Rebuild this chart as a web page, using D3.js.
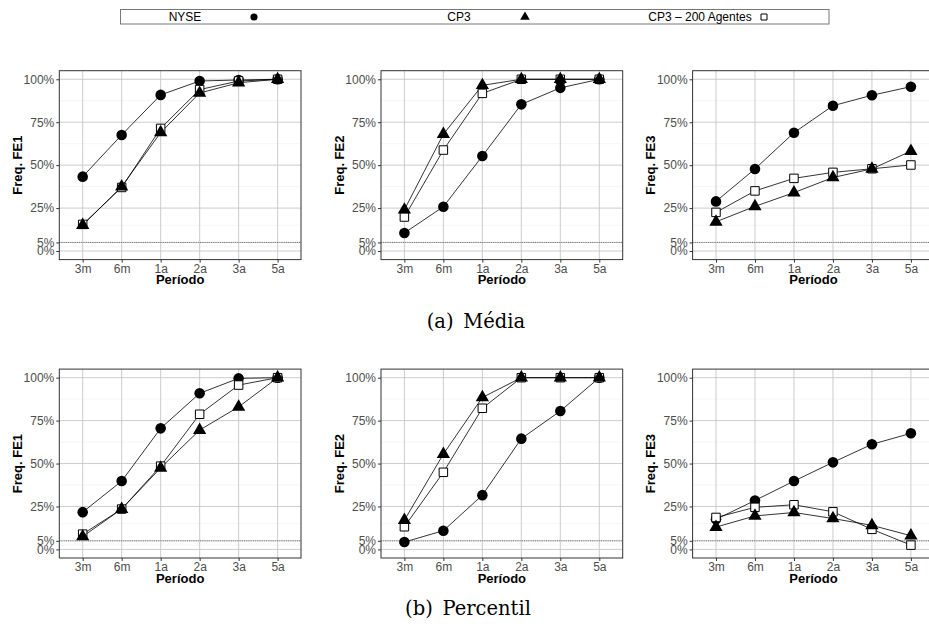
<!DOCTYPE html>
<html lang="pt">
  <head>
    <meta charset="UTF-8">
    <script src="https://cdn.jsdelivr.net/npm/d3@7/dist/d3.min.js"></script>
    <title>Freq. FE</title>
    <style>
      body { margin: 0; background: #fff; }
      svg { display: block; }
    </style>
  </head>
  <body>
    <div id="chart"></div>
    <script>

// Data (percent). Order in each panel: NYSE, CP3, CP3 – 200 Agentes
const periods = ["3m", "6m", "1a", "2a", "3a", "5a"];
const seriesNames = ["NYSE", "CP3", "CP3 – 200 Agentes"];
const yTicks = [0, 5, 25, 50, 75, 100];
const yMinor = [2.5, 15, 37.5, 62.5, 87.5];

const mediaFE1 = [
  [43.3, 67.6, 90.9, 99.0, 99.6, 100],
  [15.0, 37.5, 69.0, 92.0, 98.0, 100],
  [15.5, 37.0, 71.4, 94.0, 99.0, 100]
];
const mediaFE2 = [
  [10.5, 25.8, 55.3, 85.4, 95.0, 100],
  [24.0, 68.0, 96.5, 100, 100, 100],
  [19.8, 58.8, 91.8, 100, 100, 100]
];
const mediaFE3 = [
  [28.9, 47.8, 68.9, 84.6, 90.7, 95.7],
  [17.0, 26.0, 34.0, 42.8, 47.8, 58.2],
  [22.5, 35.0, 42.3, 45.8, 47.9, 50.1]
];
const percFE1 = [
  [21.7, 39.8, 70.5, 90.9, 99.6, 100],
  [7.5, 23.5, 47.5, 69.5, 83.0, 100],
  [8.9, 23.5, 48.5, 78.7, 95.7, 100]
];
const percFE2 = [
  [4.3, 10.9, 31.6, 64.5, 80.6, 100],
  [17.0, 55.5, 88.5, 100, 100, 100],
  [13.2, 44.9, 82.2, 100, 100, 100]
];
const percFE3 = [
  [17.5, 28.5, 39.8, 50.7, 61.2, 67.6],
  [13.0, 19.5, 21.5, 18.0, 14.0, 8.0],
  [18.6, 24.5, 26.0, 21.9, 11.7, 2.5]
];

const width  = 929;
const height = 632;

const sans = "'Liberation Sans', Arial, Helvetica, sans-serif";
const serif = "'DejaVu Serif', serif";

// panel layout
const colLeft  = [59.3, 381, 692.6];
const rowTop   = [70.7, 369.1];
const panelW   = 241.7;
const panelH   = 188.9;

const panels = [
  { row: 0, col: 0, title: "Freq. FE1", values: mediaFE1 },
  { row: 0, col: 1, title: "Freq. FE2", values: mediaFE2 },
  { row: 0, col: 2, title: "Freq. FE3", values: mediaFE3 },
  { row: 1, col: 0, title: "Freq. FE1", values: percFE1 },
  { row: 1, col: 1, title: "Freq. FE2", values: percFE2 },
  { row: 1, col: 2, title: "Freq. FE3", values: percFE3 }
];

const captions = [
  { text: "(a)\u2002Média", x: 476, y: 328 },
  { text: "(b)\u2002Percentil", x: 468, y: 615 }
];

const svg = d3.select("#chart")
  .append("svg")
  .attr("width", width)
  .attr("height", height)
  .attr("viewBox", [0, 0, width, height]);

// symbols
const sym = [
  { type: d3.symbolCircle,   size: 88, fill: "#000", stroke: "none" },
  { type: d3.symbolTriangle, size: 76, fill: "#000", stroke: "none" },
  { type: d3.symbolSquare,   size: 72, fill: "#fff", stroke: "#000" }
];
const drawOrder = [0, 2, 1];

panels.forEach(p => {
  const x0 = colLeft[p.col];
  const y0 = rowTop[p.row];

  const x = d3.scalePoint()
    .domain(periods)
    .range([x0, x0 + panelW])
    .padding(0.6);

  const y = d3.scaleLinear()
    .domain([-5, 105])
    .range([y0 + panelH, y0]);

  const g = svg.append("g");

  // minor grid
  g.append("g")
    .selectAll("line")
    .data(yMinor)
    .join("line")
      .attr("x1", x0).attr("x2", x0 + panelW)
      .attr("y1", d => y(d)).attr("y2", d => y(d))
      .attr("stroke", "#efefef")
      .attr("stroke-width", 0.6);

  // major grid
  g.append("g")
    .selectAll("line")
    .data(yTicks)
    .join("line")
      .attr("x1", x0).attr("x2", x0 + panelW)
      .attr("y1", d => y(d)).attr("y2", d => y(d))
      .attr("stroke", "#c6c6c6")
      .attr("stroke-width", 0.9);

  g.append("g")
    .selectAll("line")
    .data(periods)
    .join("line")
      .attr("x1", d => x(d)).attr("x2", d => x(d))
      .attr("y1", y0).attr("y2", y0 + panelH)
      .attr("stroke", "#c6c6c6")
      .attr("stroke-width", 0.9);

  // 5% reference line
  g.append("line")
    .attr("x1", x0).attr("x2", x0 + panelW)
    .attr("y1", y(5)).attr("y2", y(5))
    .attr("stroke", "#666")
    .attr("stroke-width", 0.9)
    .attr("stroke-dasharray", "1,1.2");

  // lines
  const line = d3.line()
    .x((d, i) => x(periods[i]))
    .y(d => y(d));

  g.append("g")
    .selectAll("path")
    .data(p.values)
    .join("path")
      .attr("d", line)
      .attr("fill", "none")
      .attr("stroke", "#000")
      .attr("stroke-width", 0.8);

  // points
  drawOrder.forEach(s => {
    g.append("g")
      .selectAll("path")
      .data(p.values[s])
      .join("path")
        .attr("transform", (d, i) => `translate(${x(periods[i])},${y(d)})`)
        .attr("d", d3.symbol(sym[s].type, sym[s].size))
        .attr("fill", sym[s].fill)
        .attr("stroke", sym[s].stroke)
        .attr("stroke-width", 1);
  });

  // border
  g.append("rect")
    .attr("x", x0).attr("y", y0)
    .attr("width", panelW).attr("height", panelH)
    .attr("fill", "none")
    .attr("stroke", "#333")
    .attr("stroke-width", 1);

  // axes
  const yAxis = g.append("g")
    .attr("transform", `translate(${x0},0)`)
    .call(d3.axisLeft(y).tickValues(yTicks).tickSize(3).tickPadding(2)
      .tickFormat(d => d + "%"));
  const xAxis = g.append("g")
    .attr("transform", `translate(0,${y0 + panelH})`)
    .call(d3.axisBottom(x).tickSize(3).tickPadding(1.5));

  [yAxis, xAxis].forEach(a => {
    a.select(".domain").remove();
    a.selectAll(".tick line").attr("stroke", "#333");
    a.selectAll("text")
      .attr("fill", "#4d4d4d")
      .attr("font-family", sans)
      .attr("font-size", 12);
  });

  // axis titles
  g.append("text")
    .attr("x", x0 + panelW / 2)
    .attr("y", y0 + panelH + 24.5)
    .attr("text-anchor", "middle")
    .attr("font-family", sans)
    .attr("font-weight", "bold")
    .attr("font-size", 13)
    .text("Período");

  g.append("text")
    .attr("transform", `translate(${x0 - 42},${y0 + panelH / 2}) rotate(-90)`)
    .attr("dy", "0.35em")
    .attr("text-anchor", "middle")
    .attr("font-family", sans)
    .attr("font-weight", "bold")
    .attr("font-size", 13)
    .text(p.title);
});

// captions
svg.append("g")
  .selectAll("text")
  .data(captions)
  .join("text")
    .attr("x", d => d.x)
    .attr("y", d => d.y)
    .attr("text-anchor", "middle")
    .attr("font-family", serif)
    .attr("font-size", 19.5)
    .text(d => d.text);

// legend
const legendTextX = [185, 459, 700];
const legendSymX  = [254, 525, 764];
const legendSym = [
  { type: d3.symbolCircle,   size: 40, fill: "#000", stroke: "none" },
  { type: d3.symbolTriangle, size: 40, fill: "#000", stroke: "none" },
  { type: d3.symbolSquare,   size: 36, fill: "#fff", stroke: "#000" }
];

const legend = svg.append("g");
legend.append("rect")
  .attr("x", 120.5).attr("y", 9.5)
  .attr("width", 708.5).attr("height", 14.5)
  .attr("fill", "#fff")
  .attr("stroke", "#777")
  .attr("stroke-width", 1);

legend.selectAll("text")
  .data(seriesNames)
  .join("text")
    .attr("x", (d, i) => legendTextX[i])
    .attr("y", 21)
    .attr("text-anchor", "middle")
    .attr("font-family", sans)
    .attr("font-size", 12)
    .text(d => d);

legend.selectAll("path")
  .data(legendSym)
  .join("path")
    .attr("transform", (d, i) => `translate(${legendSymX[i]},17)`)
    .attr("d", d => d3.symbol(d.type, d.size)())
    .attr("fill", d => d.fill)
    .attr("stroke", d => d.stroke)
    .attr("stroke-width", 1);

    </script>
  </body>
</html>
